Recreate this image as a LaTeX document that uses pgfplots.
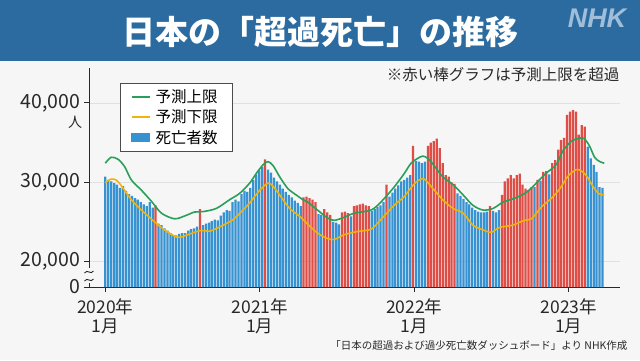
\documentclass[border=0pt]{standalone}
\usepackage{fontspec}
\setmainfont{Noto Sans CJK JP}
\newfontfamily\nhkfont{Liberation Sans}
\usepackage{pgfplots}
\pgfplotsset{compat=1.18}
\definecolor{bannerblue}{RGB}{44,107,160}
\definecolor{bgray}{RGB}{246,246,246}
\definecolor{barblue}{RGB}{55,146,210}
\definecolor{barred}{RGB}{222,78,70}
\definecolor{upgreen}{RGB}{40,160,90}
\definecolor{lowyellow}{RGB}{240,180,10}
\definecolor{nhkblue}{RGB}{160,190,218}
\definecolor{txt}{RGB}{40,40,40}
\newcommand{\lgf}{\fontsize{15.5}{16}\selectfont}
\begin{document}
\begin{tikzpicture}
\fill[bgray] (0pt,0pt) rectangle (640pt,360pt);
\fill[bannerblue] (0pt,299pt) rectangle (640pt,360pt);
\node[white, font=\fontsize{33}{33}\selectfont\bfseries] at (320pt,328pt) {日本の「超過死亡」の推移};
\node[nhkblue, font=\nhkfont\fontsize{27}{27}\selectfont\bfseries\itshape] at (597pt,342pt) {NHK};
\node[txt, anchor=east, font=\fontsize{15.5}{15.5}\selectfont] at (623pt,285pt) {※赤い棒グラフは予測上限を超過};
\begin{axis}[at={(89pt,73pt)}, anchor=south west, scale only axis, width=531pt, height=219pt,
  xmin=-5.5, xmax=173.9, ymin=16800, ymax=44400,
  axis x line*=bottom, axis y line*=left,
  axis line style={draw=txt, line width=1pt, -},
  xtick={0,52.2,104.4,156.6},
  xticklabels={{2020年\\1月},{2021年\\1月},{2022年\\1月},{2023年\\1月}},
  x tick label style={align=center, font=\fontsize{17.5}{19}\selectfont, text=txt, yshift=-3pt},
  ytick={16800,20000,30000,40000},
  yticklabels={0,{20,000},{30,000},{40,000}},
  scaled y ticks=false,
  y tick label style={font=\fontsize{19.5}{19.5}\selectfont, text=txt},
  /pgf/number format/assume math mode=true,
  tick align=outside, major tick length=5pt, tick style={draw=txt, line width=1pt},
  ymajorgrids, grid style={draw=black!12, line width=0.8pt},
  legend style={at={(0.059,0.933)}, anchor=north west, draw=black!70, fill=white,
    row sep=2pt, inner xsep=10pt, inner ysep=4.5pt, nodes={inner xsep=5pt}},
  legend cell align=left,
]
\addplot[ybar, bar width=0.76, bar shift=0pt, fill=barblue, draw=none, forget plot] coordinates {
(0,30700)(1,30300)(2,30100)(3,29900)(4,29700)(5,29300)(6,29500)(7,28900)(8,28500)(9,28300)(10,28000)(11,27800)(12,27500)(13,27200)(14,27000)(15,27500)(16,26800)(18,24800)(19,24600)(20,24200)(21,23900)(22,23600)(23,23200)(24,23300)(25,23500)(26,23600)(27,23600)(28,23900)(29,24100)(30,24200)(31,24400)(33,24600)(34,24800)(35,24900)(36,25100)(37,25300)(38,25200)(39,25800)(40,26200)(41,26500)(42,26400)(43,27500)(44,27800)(45,27600)(46,28500)(47,28900)(48,28800)(49,29300)(50,30300)(51,31000)(52,31500)(53,31900)(55,31600)(56,31200)(57,30600)(58,30100)(59,29700)(60,29200)(61,28800)(62,28400)(63,28100)(64,27700)(65,27400)(66,27000)(72,26000)(73,25900)(77,25000)(78,24900)(79,24700)(83,25700)(90,26400)(91,26600)(92,26900)(93,27100)(94,27500)(96,28200)(97,28700)(98,29200)(99,29600)(100,30100)(101,30300)(102,30600)(103,30900)(105,32700)(106,32600)(107,32400)(108,32600)(119,28600)(120,28300)(121,27900)(122,27500)(123,27200)(124,26800)(125,26500)(126,26300)(127,26200)(128,26200)(129,26300)(131,26400)(132,26200)(133,26500)(145,29400)(147,30200)(150,31000)(163,34500)(164,33000)(165,32200)(166,31300)(167,29400)(168,29300)
};
\addplot[ybar, bar width=0.76, bar shift=0pt, fill=barred, draw=none, forget plot] coordinates {
(17,27100)(32,26600)(54,32900)(67,28100)(68,28200)(69,28000)(70,27800)(71,27500)(74,26600)(75,26200)(76,25900)(80,26200)(81,26300)(82,26100)(84,27000)(85,27100)(86,27200)(87,27300)(88,27100)(89,27000)(95,29700)(104,34600)(109,34600)(110,35000)(111,35200)(112,35500)(113,34300)(114,32400)(115,30900)(116,30700)(117,30000)(118,29800)(130,27000)(134,28400)(135,30100)(136,30500)(137,30900)(138,30500)(139,30900)(140,31100)(141,29700)(142,29200)(143,29000)(144,29400)(146,30300)(148,31300)(149,31400)(151,32400)(152,32800)(153,34100)(154,35300)(155,35600)(156,38500)(157,38900)(158,39100)(159,38900)(160,36000)(161,37200)(162,37000)
};
\addplot[upgreen, line width=1.6pt, smooth, tension=0.5, forget plot] coordinates {
(0,32400)(2,33150)(4.3,32900)(6.5,32000)(8.8,30300)(12.2,29000)(15.6,27600)(19,26100)(23.4,25400)(26.8,25750)(30.2,26250)(33,26300)(37.5,26700)(42,27800)(45.4,28600)(48.8,29900)(51,31100)(53.3,32200)(55,32600)(56.7,32100)(58.9,30700)(61.7,29200)(64.5,28400)(66.8,27800)(68.4,27500)(71.7,26500)(75.1,25500)(77.4,25200)(80.8,25600)(84.1,26100)(89.8,26500)(93.1,27500)(97.6,29400)(101,31100)(103.3,32400)(105.5,33000)(107.3,33300)(109,33000)(110.7,32300)(114,30700)(117.5,29700)(120.9,28400)(124.2,27100)(127.6,26500)(131,26700)(134.4,27500)(137.7,27900)(141.8,28600)(144.6,29500)(148.5,31000)(150.5,31600)(152.5,32300)(154.7,34000)(157.6,35200)(161,35600)(162.3,35300)(163.7,34500)(165.4,33100)(167.1,32600)(168.6,32400)
};
\addplot[lowyellow, line width=1.6pt, smooth, tension=0.5, forget plot] coordinates {
(0,29950)(2,30400)(4.3,30080)(8.8,27800)(12.2,26500)(16.7,25000)(20,24000)(24.4,23050)(27.5,23350)(32,23900)(35.4,23850)(38.8,24400)(43.2,25300)(46.5,26500)(48.8,27400)(52.2,29000)(55,29900)(56.7,29500)(58.9,28400)(62.3,26700)(65.7,25700)(68.4,24700)(71.7,23600)(75.1,22900)(77.4,22800)(80.8,23400)(85.3,23800)(89.8,24100)(93.1,25300)(97.6,27100)(101,28200)(104.4,29800)(107.5,30450)(110.7,29200)(114,27800)(117.5,26700)(120.9,26100)(124.2,24600)(127.6,24000)(130.4,23700)(133.2,24300)(137.7,24600)(141.5,25200)(144,25400)(147.4,26900)(150.8,28000)(153.6,29200)(156.4,30800)(159.2,31600)(160.9,31400)(162.6,30800)(164.9,29400)(166.6,28600)(168.6,28400)
};
\addlegendimage{legend image code/.code={\draw[upgreen, line width=2pt] (0pt,0pt) -- (18pt,0pt);}}
\addlegendentry{\lgf 予測上限}
\addlegendimage{legend image code/.code={\draw[lowyellow, line width=2pt] (0pt,0pt) -- (18pt,0pt);}}
\addlegendentry{\lgf 予測下限}
\addlegendimage{legend image code/.code={\fill[barblue] (0pt,-4pt) rectangle (18pt,4pt);}}
\addlegendentry{\lgf 死亡者数}
\end{axis}
\node[txt, font=\fontsize{14}{14}\selectfont] at (75pt,238pt) {人};
\fill[bgray] (84pt,77pt) rectangle (94pt,92pt);
\draw[txt, line width=0.9pt] (84.5pt,87pt) .. controls (87.5pt,91.5pt) and (90.5pt,84.5pt) .. (93.5pt,89pt);
\draw[txt, line width=0.9pt] (84.5pt,79pt) .. controls (87.5pt,83.5pt) and (90.5pt,76.5pt) .. (93.5pt,81pt);
\node[anchor=east, txt, font=\fontsize{10.5}{10.5}\selectfont] at (631pt,14pt) {「日本の超過および過少死亡数ダッシュボード」より NHK作成};
\end{tikzpicture}
\end{document}
